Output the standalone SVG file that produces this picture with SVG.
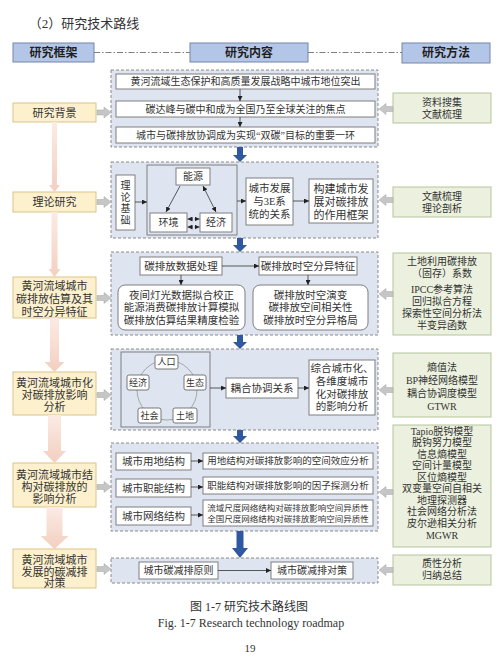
<svg xmlns="http://www.w3.org/2000/svg" width="500" height="656" viewBox="0 0 500 656">
<defs>
<style>
text{font-family:"Liberation Serif","Noto Sans CJK SC",serif;fill:#333;text-anchor:middle;dominant-baseline:central}
.hd rect{fill:#b4c6e7;stroke:#7486a8;stroke-width:1}
.hd text{font-size:12px;font-weight:bold;fill:#1f1f1f}
.lf rect{fill:#fcf0cd;stroke:#dcc38a;stroke-width:1}
.lf text{font-size:11px}
.rt rect{fill:#ebf1de;stroke:#b3c69a;stroke-width:1}
.rt text{font-size:10px}
.ct{fill:#dee5f1;stroke:#8a8a8a;stroke-width:1;stroke-dasharray:3 2}
.bx{fill:#fff;stroke:#7f7f7f;stroke-width:1}
.fr{fill:none;stroke:#7f7f7f;stroke-width:1}
.sm{fill:#fff;stroke:#595959;stroke-width:0.8}
.f9{font-size:9px}
.f85{font-size:8.5px}
.f95{font-size:9.5px}
.f10{font-size:10px}
.f105{font-size:10.5px}
.f11{font-size:11px}
.ln{stroke:#333;stroke-width:0.8;fill:none;marker-end:url(#ah)}
.dl{stroke:#333;stroke-width:0.8;fill:none;marker-end:url(#ah);marker-start:url(#ah)}
.dd{stroke:#333;stroke-width:0.8;fill:none;stroke-dasharray:2 1.5;marker-end:url(#ah);marker-start:url(#ah)}
.ga{fill:#c6c6c6;stroke:#a6a6a6;stroke-width:0.5}
.ba{fill:#2f58a0}
.pa{fill:url(#pg)}
.dash{stroke:#7f7f7f;stroke-width:1;stroke-dasharray:6 2 1.5 2;fill:none}
</style>
<marker id="ah" viewBox="0 0 6 6" refX="6" refY="3" markerUnits="userSpaceOnUse" markerWidth="5" markerHeight="5" orient="auto-start-reverse"><path d="M0,0 L6,3 L0,6z" fill="#222"/></marker>
<linearGradient id="pg" x1="0" y1="0" x2="0" y2="1"><stop offset="0" stop-color="#fbebe4"/><stop offset="1" stop-color="#f3cfc0"/></linearGradient>
</defs>
<rect width="500" height="656" fill="#fff"/>
<text x="84" y="23" style="font-size:13px">（2）研究技术路线</text>

<!-- header -->
<g id="hd-frame" class="hd"><rect x="13" y="43" width="81" height="19"/><text x="53.5" y="52.5">研究框架</text></g>
<g id="hd-content" class="hd"><rect x="190" y="43" width="118" height="19"/><text x="249" y="52.5">研究内容</text></g>
<g id="hd-method" class="hd"><rect x="402" y="43" width="88" height="20"/><text x="446" y="53">研究方法</text></g>

<!-- containers -->
<g id="sec1">
<rect class="ct" x="111" y="70" width="267" height="77"/>
<g id="s1b1"><rect class="bx" x="116" y="74" width="259" height="15"/><text class="f10" x="245.5" y="81.5">黄河流域生态保护和高质量发展战略中城市地位突出</text></g>
<g id="s1b2"><rect class="bx" x="116" y="101" width="259" height="16"/><text class="f10" x="245.5" y="109">碳达峰与碳中和成为全国乃至全球关注的焦点</text></g>
<g id="s1b3"><rect class="bx" x="116" y="127" width="259" height="16"/><text class="f10" x="245.5" y="135">城市与碳排放协调成为实现“双碳”目标的重要一环</text></g>
</g>

<g id="sec2">
<rect class="ct" x="111" y="162" width="267" height="76"/>
<g id="s2base"><rect class="bx" x="116" y="175" width="19" height="55"/><text class="f10" x="125.5" y="185">理</text><text class="f10" x="125.5" y="197">论</text><text class="f10" x="125.5" y="208.5">基</text><text class="f10" x="125.5" y="220">础</text></g>
<g id="s2tri"><rect class="fr" x="147" y="165" width="90" height="70"/>
<g id="s2energy"><rect class="bx" x="176" y="168" width="34" height="17"/><text class="f10" x="193" y="176.5">能源</text></g>
<g id="s2env"><rect class="bx" x="150" y="213" width="37" height="19"/><text class="f10" x="168.5" y="222.5">环境</text></g>
<g id="s2eco"><rect class="bx" x="200" y="213" width="32" height="19"/><text class="f10" x="216" y="222.5">经济</text></g>
</g>
<g id="s2rel"><rect class="bx" x="246" y="178" width="47" height="47"/><text class="f105" x="269.5" y="188.5">城市发展</text><text class="f105" x="269.5" y="201.5">与3E系</text><text class="f105" x="269.5" y="214.5">统的关系</text></g>
<g id="s2frame"><rect class="bx" x="309" y="179" width="64" height="44"/><text class="f11" x="341" y="188.5">构建城市发</text><text class="f11" x="341" y="201.5">展对碳排放</text><text class="f11" x="341" y="214.5">的作用框架</text></g>
</g>

<g id="sec3">
<rect class="ct" x="111" y="252" width="267" height="83"/>
<g id="s3a"><rect class="bx" x="140" y="257" width="82" height="18"/><text class="f105" x="181" y="266">碳排放数据处理</text></g>
<g id="s3b"><rect class="bx" x="259" y="257" width="98" height="18"/><text class="f105" x="308" y="266">碳排放时空分异特征</text></g>
<g id="s3c"><rect class="bx" x="118" y="285" width="127" height="45" rx="7"/><text class="f105" x="181.5" y="295">夜间灯光数据拟合校正</text><text class="f105" x="181.5" y="307.5">能源消费碳排放计算模拟</text><text class="f105" x="181.5" y="320">碳排放估算结果精度检验</text></g>
<g id="s3d"><rect class="bx" x="253" y="285" width="115" height="45" rx="7"/><text class="f105" x="310.5" y="295">碳排放时空演变</text><text class="f105" x="310.5" y="307.5">碳排放空间相关性</text><text class="f105" x="310.5" y="320">碳排放时空分异格局</text></g>
</g>

<g id="sec4">
<rect class="ct" x="111" y="349" width="267" height="81"/>
<g id="s4circle"><rect class="fr" x="121" y="352" width="89" height="75"/>
<circle cx="167" cy="390" r="30" fill="none" stroke="#a6a6a6" stroke-width="1"/>
<g id="s4pop"><rect class="sm" x="155" y="355" width="23" height="14" rx="2"/><text class="f9" x="166.5" y="362">人口</text></g>
<g id="s4eco"><rect class="sm" x="127" y="375" width="22" height="15" rx="2"/><text class="f9" x="138" y="382.5">经济</text></g>
<g id="s4ecol"><rect class="sm" x="184" y="375" width="22" height="15" rx="2"/><text class="f9" x="195" y="382.5">生态</text></g>
<g id="s4soc"><rect class="sm" x="138" y="408" width="23" height="15" rx="2"/><text class="f9" x="149.5" y="415.5">社会</text></g>
<g id="s4land"><rect class="sm" x="173" y="408" width="24" height="15" rx="2"/><text class="f9" x="185" y="415.5">土地</text></g>
</g>
<g id="s4coup"><rect class="bx" x="226" y="378" width="72" height="20"/><text class="f105" x="262" y="388">耦合协调关系</text></g>
<g id="s4sum"><rect class="bx" x="309" y="360" width="66" height="55"/><text class="f105" x="342" y="368.5">综合城市化、</text><text class="f105" x="342" y="381.5">各维度城市</text><text class="f105" x="342" y="394">化对碳排放</text><text class="f105" x="342" y="406.5">的影响分析</text></g>
</g>

<g id="sec5">
<rect class="ct" x="111" y="443" width="267" height="88"/>
<g id="s5l1"><rect class="bx" x="116" y="453" width="75" height="17"/><text class="f105" x="153.5" y="461.5">城市用地结构</text></g>
<g id="s5l2"><rect class="bx" x="116" y="479" width="75" height="18"/><text class="f105" x="153.5" y="488">城市职能结构</text></g>
<g id="s5l3"><rect class="bx" x="116" y="507" width="75" height="18"/><text class="f105" x="153.5" y="516">城市网络结构</text></g>
<g id="s5r1"><rect class="bx" x="203" y="453" width="170" height="16"/><text class="f95" x="288" y="461">用地结构对碳排放影响的空间效应分析</text></g>
<g id="s5r2"><rect class="bx" x="203" y="477" width="170" height="17"/><text class="f95" x="288" y="485.5">职能结构对碳排放影响的因子探测分析</text></g>
<g id="s5r3"><rect class="bx" x="203" y="500" width="170" height="26"/><text class="f85" x="288" y="507.5">流域尺度网络结构对碳排放影响空间异质性</text><text class="f85" x="288" y="519">全国尺度网络结构对碳排放影响空间异质性</text></g>
</g>

<g id="sec6">
<rect class="ct" x="111" y="558" width="267" height="25"/>
<g id="s6a"><rect class="bx" x="139" y="562" width="79" height="17"/><text class="f10" x="178.5" y="570.5">城市碳减排原则</text></g>
<g id="s6b"><rect class="bx" x="271" y="562" width="82" height="17"/><text class="f10" x="312" y="570.5">城市碳减排对策</text></g>
</g>

<!-- left column -->
<g id="l1" class="lf"><rect x="13" y="103" width="83" height="19"/><text x="54.5" y="112.5">研究背景</text></g>
<g id="l2" class="lf"><rect x="13" y="192" width="83" height="20"/><text x="54.5" y="202">理论研究</text></g>
<g id="l3" class="lf"><rect x="13" y="277" width="83" height="41"/><text x="54.5" y="285.5">黄河流域城市</text><text x="54.5" y="298.5">碳排放估算及其</text><text x="54.5" y="311.5">时空分异特征</text></g>
<g id="l4" class="lf"><rect x="13" y="372" width="83" height="43"/><text x="54.5" y="382.5">黄河流域城市化</text><text x="54.5" y="394.5">对碳排放影响</text><text x="54.5" y="406.5">分析</text></g>
<g id="l5" class="lf"><rect x="13" y="463" width="83" height="44"/><text x="54.5" y="474.5">黄河流域城市结</text><text x="54.5" y="486.5">构对碳排放的</text><text x="54.5" y="498.5">影响分析</text></g>
<g id="l6" class="lf"><rect x="13" y="549" width="83" height="39"/><text x="54.5" y="559.5">黄河流域城市</text><text x="54.5" y="571.5">发展的碳减排</text><text x="54.5" y="582.5">对策</text></g>

<!-- right column -->
<g id="r1" class="rt"><rect x="393" y="93" width="98" height="30"/><text x="442" y="102">资料搜集</text><text x="442" y="114.5">文献梳理</text></g>
<g id="r2" class="rt"><rect x="393" y="187" width="98" height="30"/><text x="442" y="196">文献梳理</text><text x="442" y="208.5">理论剖析</text></g>
<g id="r3" class="rt"><rect x="393" y="253" width="98" height="82"/><text x="442" y="261">土地利用碳排放</text><text x="442" y="273.5">（固存）系数</text><text x="442" y="289">IPCC参考算法</text><text x="442" y="301">回归拟合方程</text><text x="442" y="313">探索性空间分析法</text><text x="442" y="325">半变异函数</text></g>
<g id="r4" class="rt"><rect x="393" y="353" width="98" height="64"/><text x="442" y="367">熵值法</text><text x="442" y="380">BP神经网络模型</text><text x="442" y="393">耦合协调度模型</text><text x="442" y="406">GTWR</text></g>
<g id="r5" class="rt"><rect x="393" y="425" width="98" height="122"/><text x="442" y="431">Tapio脱钩模型</text><text x="442" y="442.5">脱钩努力模型</text><text x="442" y="454">信息熵模型</text><text x="442" y="465.5">空间计量模型</text><text x="442" y="477">区位熵模型</text><text x="442" y="488.5">双变量空间自相关</text><text x="442" y="500">地理探测器</text><text x="442" y="511.5">社会网络分析法</text><text x="442" y="523">皮尔逊相关分析</text><text x="442" y="535.5">MGWR</text></g>
<g id="r6" class="rt"><rect x="393" y="555" width="98" height="30"/><text x="442" y="563">质性分析</text><text x="442" y="575.5">归纳总结</text></g>

<!-- connectors -->
<g id="connectors">
<path class="dash" d="M94,52.5 H190 M308,52.5 H402"/>
<polygon class="pa" points="52,122 57,122 57,185 60,185 54.5,192 49,185 52,185"/>
<polygon class="pa" points="51.5,212 57.5,212 57.5,269 60.5,269 54.5,277 48.5,269 51.5,269"/>
<polygon class="pa" points="50,318 59,318 59,362 64.5,362 54.5,372 44.5,362 50,362"/>
<polygon class="pa" points="48,415 61,415 61,451 66,451 54.5,463 43,451 48,451"/>
<polygon class="pa" points="46.5,507 62.5,507 62.5,536 68.5,536 54.5,549 40.5,536 46.5,536"/>
<polygon class="ba" points="237,147 243,147 243,155 247,155 240,162 233,155 237,155"/>
<polygon class="ba" points="237,238 243,238 243,245 247,245 240,252 233,245 237,245"/>
<polygon class="ba" points="237,335 243,335 243,342 247,342 240,349 233,342 237,342"/>
<polygon class="ba" points="237,430 243,430 243,436 247,436 240,443 233,436 237,436"/>
<polygon class="ba" points="236.5,531 243.5,531 243.5,548 248,548 240,558 232,548 236.5,548"/>
<polygon class="ga" points="97,110 104,110 104,107 111,112.5 104,118 104,115 97,115"/>
<polygon class="ga" points="97,199.5 104,199.5 104,196.5 111,202 104,207.5 104,204.5 97,204.5"/>
<polygon class="ga" points="97,295.5 104,295.5 104,292.5 111,298 104,303.5 104,300.5 97,300.5"/>
<polygon class="ga" points="97,392.5 104,392.5 104,389.5 111,395 104,400.5 104,397.5 97,397.5"/>
<polygon class="ga" points="97,484.5 104,484.5 104,481.5 111,487 104,492.5 104,489.5 97,489.5"/>
<polygon class="ga" points="97,566.5 104,566.5 104,563.5 111,569 104,574.5 104,571.5 97,571.5"/>
<polygon class="ga" points="393,106.5 386,106.5 386,103.5 379,109 386,114.5 386,111.5 393,111.5"/>
<polygon class="ga" points="393,197.5 386,197.5 386,194.5 379,200 386,205.5 386,202.5 393,202.5"/>
<polygon class="ga" points="393,291.5 386,291.5 386,288.5 379,294 386,299.5 386,296.5 393,296.5"/>
<polygon class="ga" points="393,387.5 386,387.5 386,384.5 379,390 386,395.5 386,392.5 393,392.5"/>
<polygon class="ga" points="393,489.5 386,489.5 386,486.5 379,492 386,497.5 386,494.5 393,494.5"/>
<polygon class="ga" points="393,567.5 386,567.5 386,564.5 379,570 386,575.5 386,572.5 393,572.5"/>
<path class="ln" d="M240,89 V101"/>
<path class="ln" d="M240,117 V127"/>
<path class="ln" d="M135,202 H147"/>
<path class="ln" d="M180,186 L166,212"/>
<path class="dl" d="M203,186 L216,212"/>
<path class="dd" d="M187.5,219 H199.5"/>
<path class="dd" d="M187.5,227 H199.5"/>
<path class="ln" d="M237,201 H246"/>
<path class="ln" d="M293,201 H309"/>
<path class="ln" d="M222,266 H259"/>
<path class="ln" d="M181,275 V285"/>
<path class="ln" d="M308,275 V285"/>
<path class="ln" d="M210,388 H226"/>
<path class="ln" d="M298,388 H309"/>
<path class="ln" d="M191,461 H203"/>
<path class="ln" d="M191,487 H203"/>
<path class="ln" d="M191,515 H203"/>
<path class="ln" d="M218,570.5 H271"/>
</g>

<text x="249" y="607" style="font-size:12px">图 1-7 研究技术路线图</text>
<text x="251" y="623" style="font-size:12px">Fig. 1-7 Research technology roadmap</text>
<text x="250" y="648" style="font-size:11px">19</text>
</svg>
